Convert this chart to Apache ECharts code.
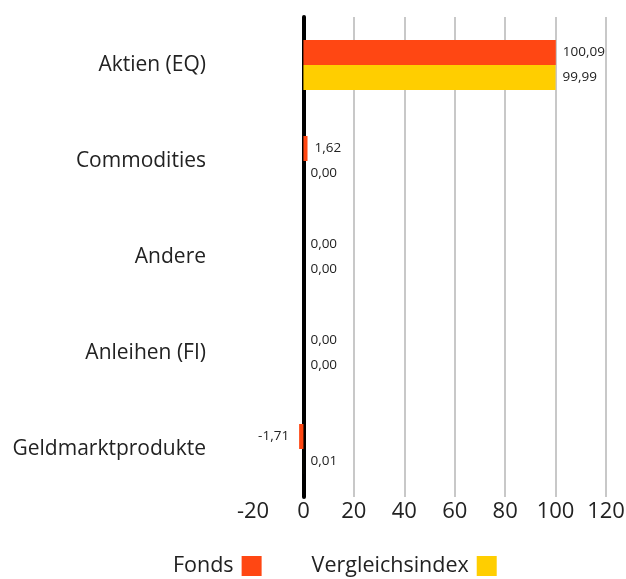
<!DOCTYPE html>
<html>
<head>
<meta charset="utf-8">
<script src="https://cdn.jsdelivr.net/npm/echarts@6/dist/echarts.min.js"></script>
<style>
    html, body { margin: 0; padding: 0; background: #fff; }
    #chart { width: 626px; height: 579px; }
</style>
</head>
<body>
<div id="chart"></div>
<script>
// Daten
const categories = ['Aktien (EQ)', 'Commodities', 'Andere', 'Anleihen (FI)', 'Geldmarktprodukte'];
const fondsValues = [100.09, 1.62, 0.00, 0.00, -1.71];
const indexValues = [99.99, 0.00, 0.00, 0.00, 0.01];
const xTicks = [-20, 0, 20, 40, 60, 80, 100, 120];

const FONT = 'Open Sans';
const fmt = v => v.toFixed(2).replace('.', ',');

const chart = echarts.init(document.getElementById('chart'));

const barLabel = {
    show: true,
    fontFamily: FONT,
    fontSize: 13.5,
    color: '#222',
    distance: 7,
    position: 'right',
    formatter: p => fmt(p.value)
};

chart.setOption({
    animation: false,
    backgroundColor: '#fff',
    grid: { left: 253, right: 20, top: 17, bottom: 82, outerBoundsMode: 'none' },
    legend: {
        bottom: -3,
        left: 168,
        align: 'right',
        itemWidth: 20,
        itemHeight: 20,
        itemGap: 50,
        icon: 'rect',
        textStyle: { fontFamily: FONT, fontSize: 21.5, color: '#222', padding: [0, 3, 0, 0] },
        data: ['Fonds', 'Vergleichsindex']
    },
    xAxis: {
        type: 'value',
        min: xTicks[0],
        max: xTicks[xTicks.length - 1],
        interval: 20,
        axisLine: { show: false },
        axisTick: { show: false },
        axisLabel: { fontFamily: FONT, fontSize: 22, color: '#222', margin: 4 },
        splitLine: {
            show: true,
            lineStyle: { color: '#c8c8c8', width: 2 },
            showMinLine: false
        }
    },
    yAxis: {
        type: 'category',
        data: categories,
        inverse: true,
        axisLine: { show: true, onZero: true, lineStyle: { color: '#000', width: 4 } },
        axisTick: { show: false },
        axisLabel: { fontFamily: FONT, fontSize: 21, color: '#222', margin: 47, padding: [3, 0, 0, 0] }
    },
    series: [
        {
            name: 'Fonds',
            type: 'bar',
            // negative Werte: Label links vom Balken
            data: fondsValues.map(v => v < 0
                ? { value: v, label: { position: 'left', distance: 10 } }
                : v),
            barWidth: 25,
            barGap: '0%',
            itemStyle: { color: '#ff4713' },
            label: barLabel
        },
        {
            name: 'Vergleichsindex',
            type: 'bar',
            data: indexValues,
            barWidth: 25,
            barGap: '0%',
            itemStyle: { color: '#ffce00' },
            label: barLabel
        }
    ]
});
</script>
</body>
</html>
